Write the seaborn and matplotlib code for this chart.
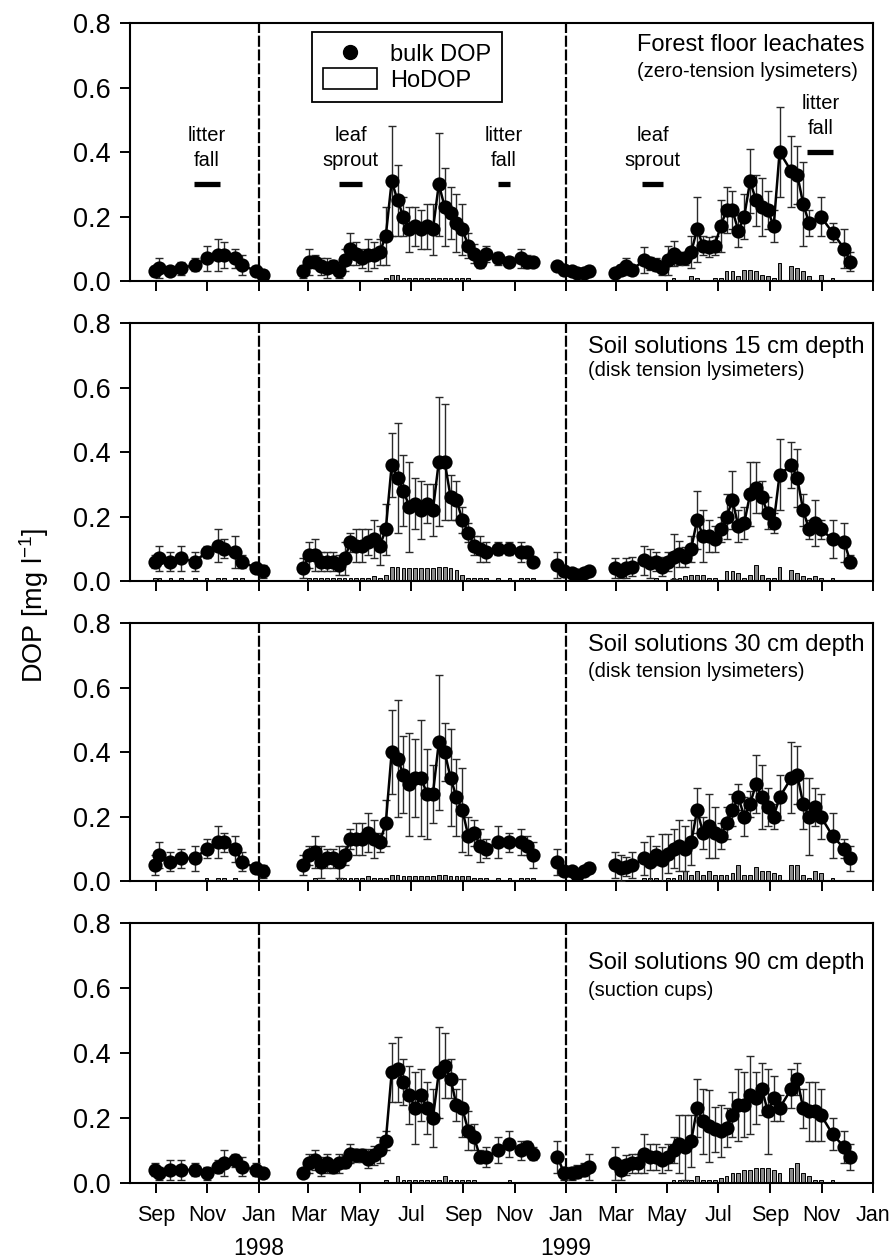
import numpy as np
import pandas as pd
import matplotlib
matplotlib.use("Agg")
import matplotlib.pyplot as plt
import matplotlib.dates as mdates
from matplotlib.ticker import FormatStrFormatter, FuncFormatter
from matplotlib.lines import Line2D
from matplotlib.patches import Rectangle
import seaborn as sns

nan = np.nan

# sampling dates: 1997 campaign, weekly 1998 campaign, winter + weekly 1999 campaign
dates_97 = ["1997-08-31", "1997-09-05", "1997-09-18", "1997-10-01", "1997-10-17", "1997-10-31",
            "1997-11-14", "1997-11-21", "1997-12-04", "1997-12-12", "1997-12-29", "1998-01-06"]
dates_98 = ["1998-02-23", "1998-03-02", "1998-03-09", "1998-03-16", "1998-03-23", "1998-03-30",
            "1998-04-06", "1998-04-13", "1998-04-20", "1998-04-27", "1998-05-04", "1998-05-11",
            "1998-05-18", "1998-05-25", "1998-06-01", "1998-06-08", "1998-06-15", "1998-06-22",
            "1998-06-29", "1998-07-06", "1998-07-13", "1998-07-20", "1998-07-27", "1998-08-03",
            "1998-08-10", "1998-08-17", "1998-08-24", "1998-08-31", "1998-09-07", "1998-09-14",
            "1998-09-21", "1998-09-28", "1998-10-05", "1998-10-12", "1998-10-19", "1998-10-26",
            "1998-11-02", "1998-11-09", "1998-11-16", "1998-11-23"]
dates_99 = ["1998-12-22", "1998-12-30", "1999-01-08", "1999-01-14", "1999-01-22", "1999-01-29",
            "1999-02-28", "1999-03-07", "1999-03-14", "1999-03-21", "1999-03-28", "1999-04-04",
            "1999-04-11", "1999-04-18", "1999-04-25", "1999-05-02", "1999-05-09", "1999-05-16",
            "1999-05-23", "1999-05-30", "1999-06-06", "1999-06-13", "1999-06-20", "1999-06-27",
            "1999-07-04", "1999-07-11", "1999-07-18", "1999-07-25", "1999-08-01", "1999-08-08",
            "1999-08-15", "1999-08-22", "1999-08-29", "1999-09-05", "1999-09-12", "1999-09-19",
            "1999-09-26", "1999-10-03", "1999-10-10", "1999-10-17", "1999-10-24", "1999-10-31",
            "1999-11-07", "1999-11-14", "1999-11-21", "1999-11-28", "1999-12-05"]

# ---- forest floor leachates ----
ff_bulk = ([0.03, 0.04, 0.03, 0.04, 0.05, 0.07, 0.08, 0.08, 0.07, 0.05, 0.03, 0.02]
           + [0.03, 0.06, 0.06, 0.045, 0.04, 0.045, 0.03, 0.065, 0.10, 0.085,
              0.07, 0.08, 0.08, 0.09, 0.14, 0.31, 0.25, 0.20, 0.16, 0.17,
              0.16, 0.17, 0.16, 0.30, 0.23, 0.21, 0.18, 0.16, 0.11, 0.085,
              0.06, 0.085, nan, 0.07, nan, 0.06, nan, 0.07, 0.06, 0.06]
           + [0.045, 0.035, 0.03, 0.025, 0.025, 0.03,
              0.025, 0.035, 0.045, 0.035, nan, 0.065, 0.055, 0.05, 0.04, 0.065,
              0.085, 0.07, 0.07, 0.09, 0.16, 0.11, 0.105, 0.11, 0.17, 0.22,
              0.22, 0.155, 0.20, 0.31, 0.25, 0.23, 0.22, 0.17, 0.40, nan,
              0.34, 0.33, 0.24, 0.18, nan, 0.20, nan, 0.15, nan, 0.10, 0.06])
ff_sd = ([0.015, 0.03, 0.01, 0.02, 0.02, 0.04, 0.05, 0.04, 0.03, 0.03, 0.015, 0.015]
         + [0.02, 0.04, 0.02, 0.025, 0.03, 0.02, 0.02, 0.035, 0.05, 0.035,
            0.03, 0.05, 0.04, 0.04, 0.09, 0.17, 0.11, 0.06, 0.07, 0.06,
            0.06, 0.07, 0.08, 0.16, 0.12, 0.08, 0.09, 0.08, 0.04, 0.03,
            0.02, 0.025, nan, 0.02, nan, 0.015, nan, 0.03, 0.02, 0.015]
         + [0.015, 0.015, 0.01, 0.01, 0.01, 0.015,
            0.01, 0.015, 0.025, 0.015, nan, 0.04, 0.02, 0.02, 0.02, 0.045,
            0.04, 0.02, 0.02, 0.05, 0.10, 0.03, 0.03, 0.03, 0.08, 0.07,
            0.06, 0.05, 0.07, 0.10, 0.08, 0.09, 0.06, 0.05, 0.14, nan,
            0.11, 0.09, 0.13, 0.04, nan, 0.06, nan, 0.03, nan, 0.06, 0.03])
ff_ho = ([nan, nan, nan, nan, nan, nan, nan, nan, nan, nan, nan, nan]
         + [nan, nan, nan, nan, nan, nan, nan, nan, nan, nan,
            nan, nan, nan, nan, 0.01, 0.02, 0.02, 0.01, 0.01, 0.01,
            0.01, 0.01, 0.01, 0.01, 0.01, 0.01, 0.01, 0.01, 0.01, nan,
            nan, nan, nan, nan, nan, nan, nan, nan, nan, nan]
         + [nan, nan, nan, nan, nan, nan,
            nan, nan, nan, nan, nan, nan, nan, nan, nan, nan,
            0.01, nan, nan, 0.015, 0.01, nan, nan, 0.01, 0.01, 0.03,
            0.03, 0.015, 0.035, 0.035, 0.03, 0.02, 0.015, 0.01, 0.055, nan,
            0.045, 0.04, 0.03, 0.015, nan, 0.02, nan, 0.01, nan, nan, nan])

# ---- soil solution 15 cm ----
s15_bulk = ([0.06, 0.07, 0.06, 0.07, 0.06, 0.09, 0.11, 0.10, 0.09, 0.06, 0.04, 0.03]
            + [0.04, 0.08, 0.08, 0.06, 0.06, 0.06, 0.05, 0.07, 0.12, 0.11,
               0.11, 0.12, 0.13, 0.11, 0.16, 0.36, 0.32, 0.28, 0.23, 0.24,
               0.22, 0.24, 0.22, 0.37, 0.37, 0.26, 0.25, 0.19, 0.15, 0.11,
               0.10, 0.09, nan, 0.10, nan, 0.10, nan, 0.09, 0.09, 0.06]
            + [0.05, 0.03, 0.025, 0.02, 0.025, 0.03,
               0.04, 0.03, 0.04, 0.045, nan, 0.065, 0.055, 0.06, 0.045, 0.06,
               0.075, 0.085, 0.075, 0.10, 0.19, 0.14, 0.14, 0.13, 0.16, 0.20,
               0.25, 0.17, 0.18, 0.27, 0.29, 0.26, 0.21, 0.18, 0.33, nan,
               0.36, 0.32, 0.22, 0.16, 0.18, 0.16, nan, 0.13, nan, 0.12, 0.06])
s15_sd = ([0.02, 0.04, 0.03, 0.04, 0.03, 0.02, 0.05, 0.03, 0.05, 0.02, 0.01, 0.02]
          + [0.03, 0.04, 0.05, 0.03, 0.03, 0.03, 0.03, 0.05, 0.03, 0.05,
             0.05, 0.04, 0.06, 0.06, 0.08, 0.10, 0.17, 0.11, 0.14, 0.08,
             0.09, 0.06, 0.08, 0.20, 0.18, 0.07, 0.06, 0.04, 0.03, 0.03,
             0.04, 0.03, nan, 0.02, nan, 0.02, nan, 0.03, 0.02, 0.01]
          + [0.04, 0.01, 0.01, 0.01, 0.01, 0.015,
             0.03, 0.02, 0.03, 0.03, nan, 0.045, 0.045, 0.03, 0.03, 0.03,
             0.07, 0.04, 0.03, 0.04, 0.09, 0.08, 0.05, 0.04, 0.04, 0.07,
             0.09, 0.05, 0.05, 0.10, 0.08, 0.05, 0.05, 0.03, 0.11, nan,
             0.07, 0.09, 0.05, 0.03, 0.07, 0.03, nan, 0.06, nan, 0.06, 0.02])
s15_ho = ([0.01, 0.01, 0.01, 0.01, 0.01, 0.01, 0.01, 0.01, 0.01, 0.01, nan, nan]
          + [nan, 0.01, 0.01, 0.01, 0.01, 0.01, 0.01, 0.01, 0.01, 0.01,
             0.01, 0.01, 0.015, 0.01, 0.02, 0.045, 0.045, 0.04, 0.04, 0.04,
             0.04, 0.04, 0.04, 0.045, 0.045, 0.04, 0.035, 0.02, 0.01, 0.01,
             0.01, 0.01, nan, 0.01, nan, 0.01, nan, 0.01, 0.01, 0.01]
          + [nan, nan, nan, nan, nan, nan,
             nan, nan, nan, nan, nan, nan, nan, 0.01, nan, nan,
             0.01, 0.01, 0.015, 0.02, 0.02, 0.02, 0.01, 0.01, nan, 0.03,
             0.03, 0.025, 0.01, 0.02, 0.05, 0.02, 0.01, 0.01, 0.045, nan,
             0.035, 0.025, 0.015, 0.01, 0.015, 0.01, nan, 0.01, nan, nan, nan])

# ---- soil solution 30 cm ----
s30_bulk = ([0.05, 0.08, 0.06, 0.07, 0.07, 0.10, 0.12, 0.12, 0.10, 0.06, 0.04, 0.03]
            + [0.05, 0.08, 0.09, 0.06, 0.07, 0.07, 0.06, 0.08, 0.13, 0.13,
               0.13, 0.15, 0.13, 0.12, 0.18, 0.40, 0.38, 0.33, 0.30, 0.32,
               0.32, 0.27, 0.27, 0.43, 0.40, 0.32, 0.26, 0.22, 0.14, 0.15,
               0.11, 0.10, nan, 0.12, nan, 0.12, nan, 0.12, 0.11, 0.08]
            + [0.06, 0.03, 0.03, 0.02, 0.03, 0.04,
               0.05, 0.04, 0.045, 0.05, nan, 0.07, 0.06, 0.08, 0.065, 0.085,
               0.10, 0.11, 0.10, 0.12, 0.22, 0.15, 0.17, 0.15, 0.14, 0.18,
               0.22, 0.26, 0.20, 0.24, 0.30, 0.26, 0.23, 0.20, 0.26, nan,
               0.32, 0.33, 0.24, 0.20, 0.23, 0.20, nan, 0.14, nan, 0.10, 0.07])
s30_sd = ([0.03, 0.04, 0.03, 0.03, 0.04, 0.03, 0.05, 0.03, 0.04, 0.03, 0.015, 0.02]
          + [0.03, 0.03, 0.05, 0.05, 0.03, 0.03, 0.05, 0.03, 0.03, 0.05,
             0.05, 0.06, 0.06, 0.03, 0.07, 0.13, 0.18, 0.12, 0.16, 0.12,
             0.18, 0.14, 0.09, 0.21, 0.09, 0.15, 0.12, 0.13, 0.06, 0.04,
             0.05, 0.03, nan, 0.05, nan, 0.03, nan, 0.04, 0.03, 0.04]
          + [0.04, 0.01, 0.01, 0.01, 0.01, 0.015,
             0.04, 0.04, 0.03, 0.04, nan, 0.05, 0.08, 0.03, 0.08, 0.06,
             0.06, 0.08, 0.07, 0.07, 0.07, 0.05, 0.10, 0.08, 0.04, 0.05,
             0.05, 0.04, 0.06, 0.04, 0.09, 0.10, 0.06, 0.04, 0.07, nan,
             0.11, 0.09, 0.08, 0.12, 0.06, 0.07, nan, 0.07, nan, 0.03, 0.04])
s30_ho = ([nan, nan, nan, nan, nan, 0.01, 0.01, 0.01, 0.01, nan, nan, nan]
          + [nan, nan, 0.01, nan, nan, nan, 0.01, 0.01, 0.01, 0.01,
             0.01, 0.015, 0.01, 0.01, 0.01, 0.02, 0.02, 0.015, 0.015, 0.015,
             0.015, 0.015, 0.015, 0.02, 0.02, 0.015, 0.015, 0.015, 0.015, 0.01,
             0.01, 0.01, nan, 0.01, nan, 0.01, nan, 0.01, 0.01, 0.01]
          + [nan, nan, nan, nan, nan, nan,
             nan, nan, nan, nan, nan, 0.01, 0.01, 0.01, nan, 0.01,
             0.01, 0.02, 0.03, 0.02, 0.03, 0.02, 0.03, 0.02, 0.02, 0.02,
             0.025, 0.05, 0.02, 0.02, 0.045, 0.03, 0.03, 0.025, 0.02, nan,
             0.05, 0.05, 0.02, 0.01, 0.03, 0.025, nan, 0.01, nan, nan, nan])

# ---- soil solution 90 cm ----
s90_bulk = ([0.04, 0.03, 0.04, 0.04, 0.04, 0.03, 0.05, 0.06, 0.07, 0.05, 0.04, 0.03]
            + [0.03, 0.06, 0.07, 0.05, 0.06, 0.05, 0.06, 0.065, 0.09, 0.085,
               0.085, 0.075, 0.085, 0.10, 0.13, 0.34, 0.35, 0.31, 0.27, 0.23,
               0.27, 0.23, 0.20, 0.34, 0.36, 0.32, 0.24, 0.23, 0.16, 0.14,
               0.08, 0.08, nan, 0.10, nan, 0.12, nan, 0.10, 0.11, 0.09]
            + [0.08, 0.03, 0.03, 0.035, 0.04, 0.05,
               0.06, 0.04, 0.055, 0.06, 0.06, 0.09, 0.08, 0.08, 0.07, 0.08,
               0.10, 0.12, 0.11, 0.13, 0.23, 0.19, 0.175, 0.165, 0.16, 0.17,
               0.21, 0.24, 0.24, 0.27, 0.26, 0.29, 0.22, 0.26, 0.23, nan,
               0.29, 0.32, 0.23, 0.22, 0.22, 0.21, nan, 0.15, nan, 0.11, 0.08])
s90_sd = ([0.02, 0.02, 0.03, 0.03, 0.02, 0.02, 0.02, 0.04, 0.02, 0.03, 0.02, 0.015]
          + [0.01, 0.03, 0.03, 0.03, 0.03, 0.02, 0.03, 0.02, 0.03, 0.02,
             0.02, 0.03, 0.03, 0.04, 0.03, 0.09, 0.10, 0.07, 0.09, 0.11,
             0.08, 0.08, 0.09, 0.14, 0.10, 0.06, 0.05, 0.09, 0.06, 0.04,
             0.02, 0.03, nan, 0.04, nan, 0.04, nan, 0.03, 0.02, 0.02]
          + [0.05, 0.02, 0.02, 0.02, 0.02, 0.04,
             0.05, 0.03, 0.03, 0.03, 0.03, 0.06, 0.04, 0.04, 0.04, 0.04,
             0.04, 0.09, 0.10, 0.08, 0.09, 0.10, 0.11, 0.07, 0.08, 0.06,
             0.07, 0.11, 0.10, 0.12, 0.08, 0.08, 0.13, 0.07, 0.04, nan,
             0.06, 0.05, 0.06, 0.09, 0.09, 0.08, nan, 0.05, nan, 0.05, 0.04])
s90_ho = ([nan, nan, nan, nan, nan, nan, nan, nan, nan, nan, nan, nan]
          + [nan, nan, nan, nan, nan, nan, nan, nan, nan, nan,
             nan, nan, nan, nan, 0.01, nan, 0.02, 0.01, 0.01, 0.01,
             0.01, 0.01, 0.01, 0.01, 0.02, 0.01, 0.01, 0.01, 0.01, 0.01,
             nan, nan, nan, nan, nan, 0.01, nan, nan, nan, nan]
          + [nan, nan, nan, nan, nan, nan,
             nan, nan, nan, nan, nan, nan, nan, nan, nan, nan,
             0.01, 0.01, 0.01, 0.01, 0.02, 0.01, 0.01, 0.01, 0.015, 0.02,
             0.03, 0.03, 0.04, 0.04, 0.045, 0.045, 0.045, 0.04, 0.03, nan,
             0.045, 0.06, 0.03, 0.02, 0.01, 0.01, nan, 0.01, nan, nan, nan])

panel_titles = ["Forest floor leachates", "Soil solutions 15 cm depth",
                "Soil solutions 30 cm depth", "Soil solutions 90 cm depth"]
panel_subtitles = ["(zero-tension lysimeters)", "(disk tension lysimeters)",
                   "(disk tension lysimeters)", "(suction cups)"]

# phenology marks in the top panel
event_labels = ["litter\nfall", "leaf\nsprout", "litter\nfall", "leaf\nsprout", "litter\nfall"]
event_start = ["1997-10-16", "1998-04-06", "1998-10-12", "1999-04-02", "1999-10-15"]
event_end = ["1997-11-16", "1998-05-04", "1998-10-27", "1999-04-27", "1999-11-15"]
event_level = [0.30, 0.30, 0.30, 0.30, 0.40]

sns.set_style("ticks")
plt.rcParams['font.family'] = ['Liberation Sans', 'DejaVu Sans']
plt.rcParams['mathtext.fontset'] = 'custom'
plt.rcParams['mathtext.rm'] = 'Liberation Sans'
plt.rcParams['mathtext.it'] = 'Liberation Sans:italic'
for key in ['text.color', 'axes.labelcolor', 'xtick.color', 'ytick.color']:
    plt.rcParams[key] = 'black'

dates = pd.to_datetime(dates_97 + dates_98 + dates_99)


def make_frame(bulk, sd, ho):
    df = pd.DataFrame({'date': dates, 'bulk': bulk, 'sd': sd, 'ho': ho})
    obs = df.dropna(subset=['bulk']).copy()
    # break the line where sampling paused
    obs['segment'] = (obs['date'].diff().dt.days > 25).cumsum()
    return df, obs


def month_label(x, pos):
    return mdates.num2date(x).strftime('%b')


panels = [(ff_bulk, ff_sd, ff_ho), (s15_bulk, s15_sd, s15_ho),
          (s30_bulk, s30_sd, s30_ho), (s90_bulk, s90_sd, s90_ho)]
axes_bottom = [0.7768, 0.5385, 0.3002, 0.0604]
axes_height = [0.2049, 0.2049, 0.2049, 0.2065]
title_y = [0.915, 0.908, 0.915, 0.846]
sub_y = [0.814, 0.815, 0.814, 0.742]

fig = plt.figure(figsize=(8.96, 12.59), dpi=100)

for i, (bulk, sd, ho) in enumerate(panels):
    ax = fig.add_axes([0.1451, axes_bottom[i], 0.8292, axes_height[i]])
    df, obs = make_frame(bulk, sd, ho)
    hod = df.dropna(subset=['ho'])

    for d in ['1998-01-01', '1999-01-01']:
        ax.axvline(pd.Timestamp(d), color='black', lw=1.6, ls=(0, (5, 1.2)), zorder=1)

    ax.bar(hod['date'], hod['ho'], width=4.5, color='#8a8a8a', edgecolor='black',
           lw=0.7, zorder=2)
    ax.errorbar(obs['date'], obs['bulk'], yerr=obs['sd'], fmt='none', ecolor='#2a2a2a',
                elinewidth=1.0, capsize=3.2, capthick=1.0, zorder=3)
    sns.lineplot(data=obs, x='date', y='bulk', units='segment', estimator=None,
                 color='black', lw=1.8, ax=ax, zorder=4)
    sns.scatterplot(data=obs, x='date', y='bulk', color='black', s=105, linewidth=0,
                    ax=ax, zorder=5)

    ax.set_xlabel('')
    ax.set_ylabel('')
    ax.set_ylim(0, 0.8)
    ax.set_yticks([0.0, 0.2, 0.4, 0.6, 0.8])
    ax.yaxis.set_major_formatter(FormatStrFormatter('%.1f'))
    ax.set_xlim(pd.Timestamp('1997-08-01'), pd.Timestamp('2000-01-01'))
    ax.xaxis.set_major_locator(mdates.MonthLocator(bymonth=[1, 3, 5, 7, 9, 11]))
    ax.tick_params(axis='both', direction='out', length=7, width=1.4)
    ax.tick_params(axis='y', labelsize=19.5, pad=7)
    for sp in ax.spines.values():
        sp.set_linewidth(1.5)
        sp.set_color('black')

    if i == 3:
        ax.xaxis.set_major_formatter(FuncFormatter(month_label))
        ax.tick_params(axis='x', labelsize=15.5, pad=9)
        for yr in ['1998', '1999']:
            ax.annotate(yr, xy=(pd.Timestamp(yr + '-01-01'), 0),
                        xycoords=('data', 'axes fraction'), xytext=(0, -47),
                        textcoords='offset points', ha='center', va='center', fontsize=16.5)
    else:
        ax.tick_params(axis='x', labelbottom=False)

    title = ax.text(0.988, title_y[i], panel_titles[i], transform=ax.transAxes,
                    ha='right', va='center', fontsize=17)
    ax.annotate(panel_subtitles[i], xy=(0, sub_y[i]), xycoords=(title, 'axes fraction'),
                ha='left', va='center', fontsize=14.5)

    if i == 0:
        for lab, d0, d1, lev in zip(event_labels, event_start, event_end, event_level):
            t0, t1 = pd.Timestamp(d0), pd.Timestamp(d1)
            ax.plot([t0, t1], [lev, lev], color='black', lw=3.8, solid_capstyle='butt')
            ax.text(t0 + (t1 - t0) / 2, lev + 0.112, lab, ha='center', va='center',
                    fontsize=14.5, linespacing=1.4)
        handles = [Line2D([], [], marker='o', color='black', ls='none', markersize=10),
                   Rectangle((0, 0), 1, 1, facecolor='white', edgecolor='black', lw=1.2)]
        ax.legend(handles, ['bulk DOP', 'HoDOP'], loc='upper left',
                  bbox_to_anchor=(0.245, 0.965), frameon=True, fancybox=False,
                  edgecolor='black', framealpha=1, fontsize=17, handlelength=2.3,
                  handleheight=0.95, handletextpad=0.55, borderpad=0.45,
                  labelspacing=0.1, borderaxespad=0).get_frame().set_linewidth(1.3)

fig.text(34 / 896, 1 - 605 / 1259, 'DOP [mg l$^{-1}$]', rotation=90,
         ha='center', va='center', fontsize=19.5)

fig.savefig('out.png', dpi=100)
